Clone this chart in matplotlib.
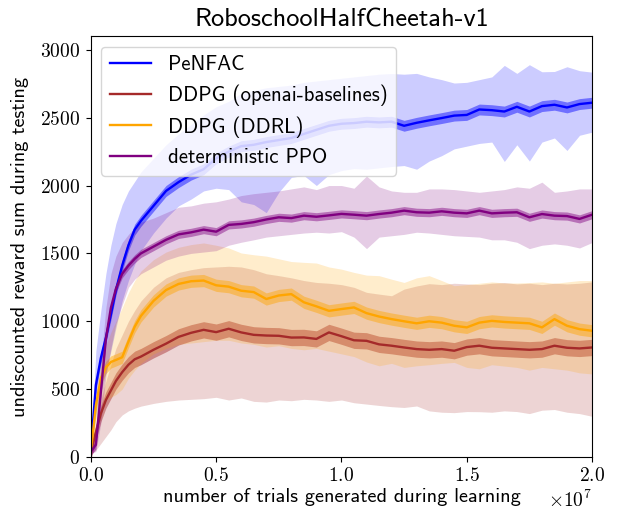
"""
RoboschoolHalfCheetah-v1 learning curves
"""

import matplotlib
matplotlib.use("Agg")
import matplotlib.pyplot as plt
import numpy as np

# x positions, in units of 1e7 trials
x = [0, 0.02, 0.04, 0.06, 0.08, 0.10, 0.125, 0.15, 0.175, 0.2,
     0.25, 0.3, 0.35, 0.4, 0.45, 0.5, 0.55, 0.6, 0.65, 0.7,
     0.75, 0.8, 0.85, 0.9, 0.95, 1.0, 1.05, 1.1, 1.15, 1.2,
     1.25, 1.3, 1.35, 1.4, 1.45, 1.5, 1.55, 1.6, 1.65, 1.7,
     1.75, 1.8, 1.85, 1.9, 1.95, 2.0]

penfac_mean = [50, 530, 730, 880, 1050, 1230, 1410, 1560, 1675, 1740,
               1850, 1960, 2025, 2080, 2120, 2200, 2250, 2290, 2300, 2320,
               2335, 2350, 2380, 2410, 2440, 2455, 2460, 2470, 2465, 2470,
               2440, 2462, 2480, 2497, 2515, 2520, 2560, 2555, 2545, 2580,
               2545, 2585, 2595, 2575, 2600, 2610]
penfac_hi = [60, 780, 1080, 1350, 1560, 1720, 1860, 1960, 2030, 2100,
             2200, 2300, 2380, 2450, 2520, 2580, 2620, 2680, 2700, 2720,
             2730, 2740, 2760, 2770, 2780, 2790, 2800, 2810, 2820, 2825,
             2820, 2826, 2800, 2780, 2755, 2760, 2780, 2800, 2885, 2826,
             2890, 2838, 2840, 2875, 2846, 2835]
penfac_lo = [40, 300, 480, 620, 780, 950, 1150, 1300, 1420, 1520,
             1650, 1760, 1850, 1900, 1960, 1980, 1970, 1880, 1860, 1800,
             1950, 2060, 2074, 2000, 2080, 2110, 2125, 2120, 2130, 2140,
             2147, 2120, 2180, 2220, 2270, 2290, 2310, 2320, 2177, 2300,
             2180, 2320, 2350, 2258, 2370, 2393]

ppo_mean = [40, 90, 480, 870, 1100, 1240, 1350, 1410, 1460, 1500,
            1550, 1600, 1640, 1655, 1675, 1660, 1710, 1717, 1730, 1750,
            1766, 1760, 1778, 1770, 1780, 1791, 1785, 1778, 1790, 1800,
            1815, 1803, 1800, 1810, 1800, 1795, 1815, 1795, 1800, 1803,
            1766, 1790, 1778, 1775, 1754, 1785]
ppo_hi = [50, 200, 700, 1100, 1350, 1480, 1580, 1640, 1690, 1730,
          1760, 1800, 1840, 1850, 1870, 1880, 1900, 1926, 1940, 1950,
          1960, 1975, 1990, 1970, 2000, 2000, 1980, 2070, 1990, 1960,
          1950, 1950, 1975, 1975, 1970, 1960, 1950, 1960, 1970, 1990,
          1980, 2025, 1950, 1960, 1975, 1975]
ppo_lo = [30, 40, 250, 600, 800, 980, 1120, 1250, 1310, 1350,
          1400, 1450, 1480, 1500, 1510, 1520, 1560, 1582, 1600, 1620,
          1630, 1640, 1650, 1656, 1650, 1660, 1620, 1535, 1620, 1630,
          1640, 1656, 1650, 1640, 1630, 1625, 1620, 1600, 1600, 1582,
          1535, 1560, 1570, 1560, 1540, 1580]

ddrl_mean = [40, 380, 580, 660, 700, 715, 735, 850, 960, 1040,
             1150, 1230, 1275, 1295, 1300, 1265, 1255, 1225, 1215, 1164,
             1190, 1200, 1140, 1110, 1077, 1090, 1102, 1060, 1035, 1016,
             1000, 985, 1000, 990, 967, 955, 990, 1003, 995, 990,
             985, 955, 1016, 967, 942, 930]
ddrl_hi = [50, 500, 720, 820, 920, 1000, 1100, 1210, 1300, 1370,
           1454, 1510, 1545, 1565, 1577, 1560, 1540, 1503, 1490, 1480,
           1460, 1440, 1434, 1429, 1400, 1384, 1360, 1340, 1336, 1310,
           1286, 1320, 1336, 1300, 1262, 1270, 1280, 1290, 1282, 1282,
           1285, 1290, 1280, 1290, 1300, 1300]
ddrl_lo = [30, 250, 380, 420, 440, 460, 500, 580, 640, 690,
           760, 800, 830, 840, 850, 860, 860, 840, 830, 810,
           820, 800, 790, 800, 780, 760, 740, 700, 672, 690,
           660, 672, 680, 690, 697, 660, 650, 680, 670, 660,
           640, 660, 650, 640, 620, 612]

openai_mean = [40, 180, 320, 420, 490, 560, 625, 680, 720, 740,
               790, 835, 885, 915, 937, 920, 945, 918, 900, 895,
               893, 880, 881, 870, 918, 890, 860, 856, 830, 820,
               807, 795, 790, 795, 783, 810, 820, 805, 800, 795,
               790, 795, 820, 805, 800, 807]
openai_hi = [50, 250, 420, 560, 680, 800, 900, 1000, 1080, 1150,
             1250, 1320, 1360, 1380, 1395, 1400, 1405, 1400, 1380, 1350,
             1336, 1320, 1300, 1286, 1280, 1270, 1250, 1213, 1200, 1188,
             1237, 1260, 1277, 1270, 1280, 1275, 1270, 1280, 1285, 1275,
             1280, 1270, 1280, 1275, 1280, 1290]
openai_lo = [20, 50, 100, 150, 200, 260, 310, 340, 360, 375,
             395, 410, 420, 425, 430, 440, 420, 435, 410, 405,
             420, 415, 425, 420, 410, 420, 400, 390, 380, 371,
             365, 376, 340, 330, 327, 335, 334, 330, 340, 335,
             320, 345, 350, 330, 320, 300]

# half width of the darker inner band of each run
inner = {"PeNFAC": 40, "DDPG (openai-baselines)": 60,
         "DDPG (DDRL)": 45, "deterministic PPO": 30}

series = [
    ("PeNFAC", "blue", penfac_mean, penfac_lo, penfac_hi),
    ("DDPG (openai-baselines)", "brown", openai_mean, openai_lo, openai_hi),
    ("DDPG (DDRL)", "orange", ddrl_mean, ddrl_lo, ddrl_hi),
    ("deterministic PPO", "purple", ppo_mean, ppo_lo, ppo_hi),
]

plt.rcParams["font.family"] = "cmr10"
plt.rcParams["mathtext.fontset"] = "cm"
plt.rcParams["axes.formatter.use_mathtext"] = True

sans = "cmss10"

fig = plt.figure(figsize=(6.18, 5.17), dpi=100)
ax = fig.add_axes([0.147, 0.116, 0.811, 0.814])

xs = np.array(x) * 1e7
for name, color, mean, lo, hi in series:
    mean = np.array(mean)
    ax.fill_between(xs, lo, hi, color=color, alpha=0.2, linewidth=0)
    ax.fill_between(xs, mean - inner[name], mean + inner[name],
                    color=color, alpha=0.45, linewidth=0)
    ax.plot(xs, mean, color=color, linewidth=1.7, label=name)

ax.set_xlim(0, 2e7)
ax.set_ylim(0, 3100)
ax.set_xticks([0, 0.5e7, 1.0e7, 1.5e7, 2.0e7])
ax.set_yticks([0, 500, 1000, 1500, 2000, 2500, 3000])
ax.tick_params(labelsize=14, pad=4)
ax.xaxis.get_offset_text().set_fontsize(14)

ax.set_title("RoboschoolHalfCheetah-v1", family=sans, fontsize=19, pad=7)
ax.set_xlabel("number of trials generated during learning", family=sans,
              fontsize=14.6, labelpad=2)
ax.set_ylabel("undiscounted reward sum during testing", family=sans,
              fontsize=14.6, labelpad=8)

leg = ax.legend(loc="upper left", prop={"family": sans, "size": 15},
                borderaxespad=0.5)

fig.savefig("out.png", dpi=100)
